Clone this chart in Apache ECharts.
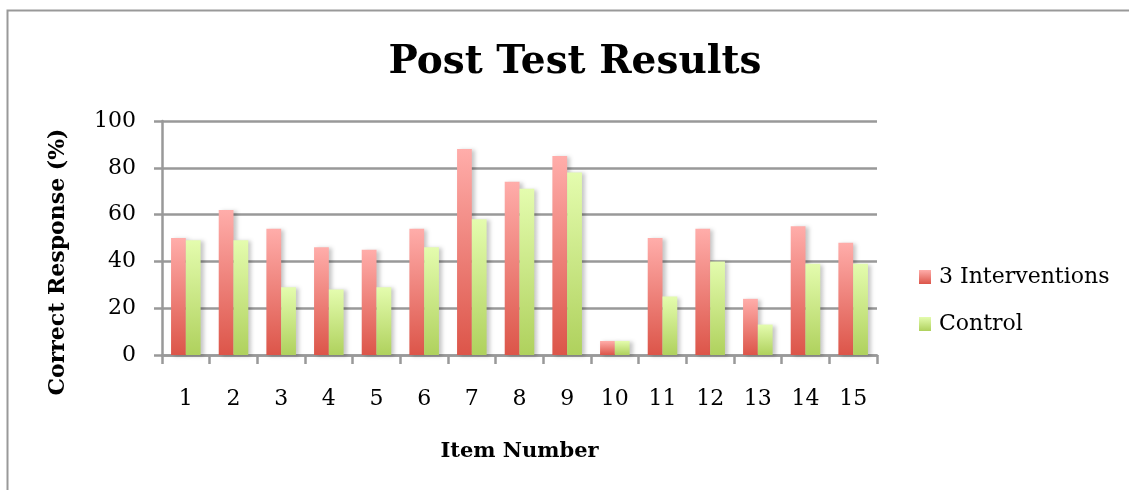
<!DOCTYPE html>
<html>
<head>
<meta charset="utf-8">
<script src="https://cdn.jsdelivr.net/npm/echarts@6/dist/echarts.min.js"></script>
<style>
  html, body { margin: 0; padding: 0; background: #fff; }
  #chart { width: 1129px; height: 490px; }
</style>
</head>
<body>
<div id="chart"></div>
<script>
var items = ['1', '2', '3', '4', '5', '6', '7', '8', '9', '10', '11', '12', '13', '14', '15'];
var interventions = [50, 62, 54, 46, 45, 54, 88, 74, 85, 6, 50, 54, 24, 55, 48];
var control = [49, 49, 29, 28, 29, 46, 58, 71, 78, 6, 25, 40, 13, 39, 39];
var yTicks = [0, 20, 40, 60, 80, 100];

var serif = '"DejaVu Serif", "Liberation Serif", serif';

var myChart = echarts.init(document.getElementById('chart'));

var redFill = new echarts.graphic.LinearGradient(0, 0, 0, 1, [
    { offset: 0, color: '#ffadaa' },
    { offset: 1, color: '#dc5549' }
]);
var greenFill = new echarts.graphic.LinearGradient(0, 0, 0, 1, [
    { offset: 0, color: '#e4fcae' },
    { offset: 1, color: '#afd15d' }
]);

var barShadow = {
    shadowColor: 'rgba(0, 0, 0, 0.22)',
    shadowBlur: 4,
    shadowOffsetX: 3,
    shadowOffsetY: 1
};

var option = {
    animation: false,
    backgroundColor: '#fff',
    graphic: [{
        type: 'rect',
        left: 5,
        top: 8,
        shape: { width: 1200, height: 600 },
        style: { fill: 'none', stroke: '#999', lineWidth: 2 },
        silent: true
    }],
    title: {
        text: 'Post Test Results',
        left: 570,
        textAlign: 'center',
        top: 38,
        textStyle: {
            fontFamily: serif,
            fontWeight: 'bold',
            fontSize: 39,
            color: '#000'
        }
    },
    legend: {
        orient: 'vertical',
        left: 914,
        top: 261,
        itemGap: 25,
        itemWidth: 12,
        itemHeight: 14,
        icon: 'rect',
        textStyle: {
            fontFamily: serif,
            fontSize: 22,
            color: '#000',
            padding: [0, 0, 0, 3]
        },
        data: ['3 Interventions', 'Control']
    },
    grid: {
        left: 162,
        right: 252,
        top: 121,
        bottom: 135
    },
    xAxis: {
        type: 'category',
        data: items,
        name: 'Item Number',
        nameLocation: 'middle',
        nameGap: 86,
        nameTextStyle: {
            fontFamily: serif,
            fontWeight: 'bold',
            fontSize: 21,
            color: '#000'
        },
        axisLine: { lineStyle: { color: '#999', width: 2.5 } },
        axisTick: { show: true, length: 9, lineStyle: { color: '#999', width: 2.5 } },
        axisLabel: {
            margin: 33,
            fontFamily: serif,
            fontSize: 22,
            color: '#000'
        }
    },
    yAxis: {
        type: 'value',
        min: 0,
        max: 100,
        interval: yTicks[1] - yTicks[0],
        name: 'Correct Response (%)',
        nameLocation: 'middle',
        nameGap: 93,
        nameTextStyle: {
            fontFamily: serif,
            fontWeight: 'bold',
            fontSize: 22,
            color: '#000',
            padding: [0, 48, 0, 0]
        },
        axisLine: { show: true, lineStyle: { color: '#999', width: 2.5 } },
        axisTick: { show: true, length: 8, lineStyle: { color: '#999', width: 2.5 } },
        splitLine: { lineStyle: { color: '#999', width: 2.5 } },
        axisLabel: {
            margin: 26,
            fontFamily: serif,
            fontSize: 22,
            color: '#000',
            padding: [5, 0, 0, 0]
        }
    },
    series: [
        {
            name: '3 Interventions',
            type: 'bar',
            data: interventions,
            barGap: '0%',
            barCategoryGap: '38%',
            itemStyle: Object.assign({ color: redFill }, barShadow)
        },
        {
            name: 'Control',
            type: 'bar',
            data: control,
            barGap: '0%',
            barCategoryGap: '38%',
            itemStyle: Object.assign({ color: greenFill }, barShadow)
        }
    ]
};

myChart.setOption(option);
</script>
</body>
</html>
